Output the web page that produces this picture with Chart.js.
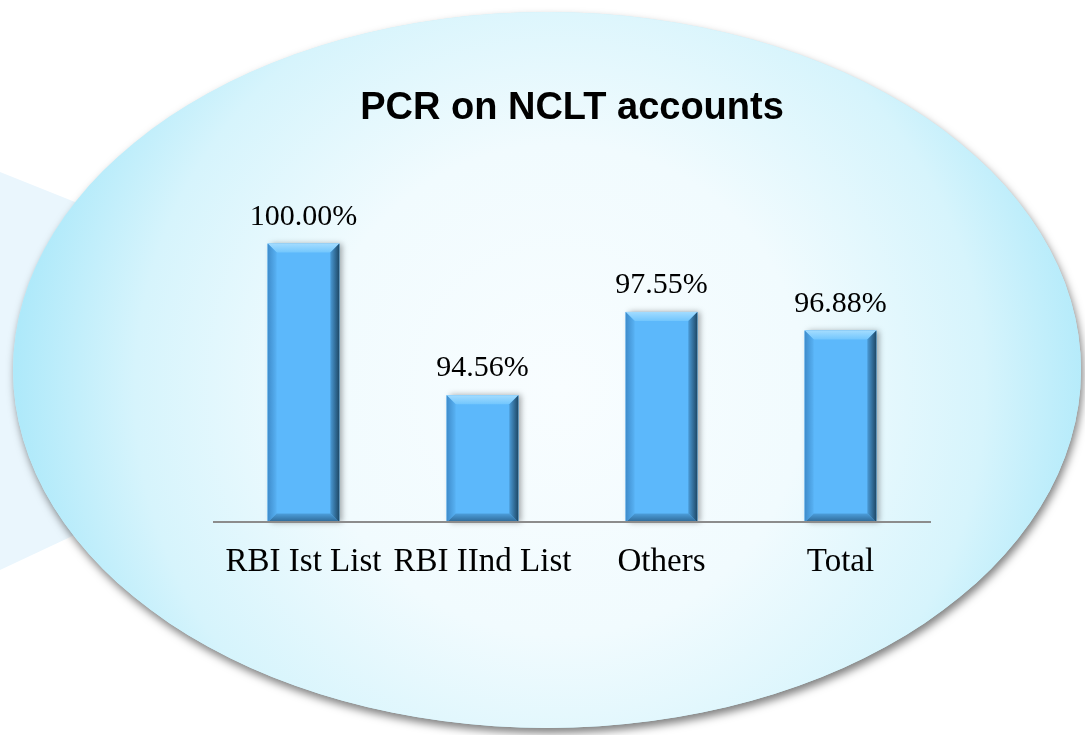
<!DOCTYPE html>
<html>
<head>
<meta charset="utf-8">
<script src="https://cdn.jsdelivr.net/npm/chart.js@4/dist/chart.umd.min.js"></script>
<style>
  html, body { margin: 0; padding: 0; background: #ffffff; }
  #wrap { width: 1085px; height: 735px; }
</style>
</head>
<body>
<div id="wrap"><canvas id="pcrChart" width="1085" height="735"></canvas></div>
<script>
let categories = ["RBI Ist List", "RBI IInd List", "Others", "Total"];
let pcrValues = [100.00, 94.56, 97.55, 96.88];

const barColor = "#5cb8fb";

// bubble background: tail on the left + shaded ellipse
const bubbleBackground = {
    id: "bubbleBackground",
    beforeDraw(chart) {
        const ctx = chart.ctx;
        ctx.save();
        ctx.fillStyle = "#ffffff";
        ctx.fillRect(0, 0, chart.width, chart.height);

        // speech tail
        ctx.fillStyle = "#eaf6fd";
        ctx.beginPath();
        ctx.moveTo(0, 172);
        ctx.lineTo(260, 276);
        ctx.lineTo(260, 448);
        ctx.lineTo(0, 570);
        ctx.closePath();
        ctx.fill();

        const cx = 547, cy = 370, rx = 534, ry = 358;

        // drop shadow
        ctx.save();
        ctx.shadowColor = "rgba(0,0,0,0.5)";
        ctx.shadowBlur = 9;
        ctx.shadowOffsetX = 2;
        ctx.shadowOffsetY = 5;
        ctx.fillStyle = "#c9f0fb";
        ctx.beginPath();
        ctx.ellipse(cx, cy, rx, ry, 0, 0, Math.PI * 2);
        ctx.fill();
        ctx.restore();

        const grad = ctx.createRadialGradient(560, 390, 0, 560, 390, 545);
        grad.addColorStop(0, "#f8fdff");
        grad.addColorStop(0.45, "#f1fbfe");
        grad.addColorStop(0.78, "#d6f4fc");
        grad.addColorStop(1, "#aee9fa");
        ctx.fillStyle = grad;
        ctx.beginPath();
        ctx.ellipse(cx, cy, rx, ry, 0, 0, Math.PI * 2);
        ctx.fill();
        ctx.restore();
    }
};

// bevel look and value labels on the bars
const bevelBars = {
    id: "bevelBars",
    beforeDatasetsDraw(chart) {
        const ctx = chart.ctx;
        ctx.save();
        ctx.shadowColor = "rgba(0,0,0,0.35)";
        ctx.shadowBlur = 6;
        ctx.shadowOffsetX = 3;
        ctx.shadowOffsetY = 0;
        ctx.fillStyle = barColor;
        chart.getDatasetMeta(0).data.forEach(bar => {
            const w = bar.width;
            ctx.fillRect(bar.x - w / 2, bar.y, w, bar.base - bar.y);
        });
        ctx.restore();
    },
    afterDatasetsDraw(chart) {
        const ctx = chart.ctx;
        const b = 9;
        ctx.save();
        chart.getDatasetMeta(0).data.forEach((bar, i) => {
            const x0 = bar.x - bar.width / 2;
            const x1 = bar.x + bar.width / 2;
            const top = bar.y;
            const bottom = bar.base;

            // top facet
            let g = ctx.createLinearGradient(0, top, 0, top + b);
            g.addColorStop(0, "#a3dcff");
            g.addColorStop(1, "#72c6fd");
            ctx.fillStyle = g;
            ctx.beginPath();
            ctx.moveTo(x0, top); ctx.lineTo(x1, top);
            ctx.lineTo(x1 - b, top + b); ctx.lineTo(x0 + b, top + b);
            ctx.closePath(); ctx.fill();

            // right facet
            g = ctx.createLinearGradient(x1 - b, 0, x1, 0);
            g.addColorStop(0, "#4a9ad6");
            g.addColorStop(1, "#1e4866");
            ctx.fillStyle = g;
            ctx.beginPath();
            ctx.moveTo(x1, top); ctx.lineTo(x1, bottom);
            ctx.lineTo(x1 - b, bottom - b); ctx.lineTo(x1 - b, top + b);
            ctx.closePath(); ctx.fill();

            // left facet
            g = ctx.createLinearGradient(x0, 0, x0 + b, 0);
            g.addColorStop(0, "#3f8ccb");
            g.addColorStop(1, "#58b2f4");
            ctx.fillStyle = g;
            ctx.beginPath();
            ctx.moveTo(x0, top); ctx.lineTo(x0 + b, top + b);
            ctx.lineTo(x0 + b, bottom - b); ctx.lineTo(x0, bottom);
            ctx.closePath(); ctx.fill();

            // bottom facet
            g = ctx.createLinearGradient(0, bottom - b, 0, bottom);
            g.addColorStop(0, "#4d9fdc");
            g.addColorStop(1, "#2c6592");
            ctx.fillStyle = g;
            ctx.beginPath();
            ctx.moveTo(x0, bottom); ctx.lineTo(x1, bottom);
            ctx.lineTo(x1 - b, bottom - b); ctx.lineTo(x0 + b, bottom - b);
            ctx.closePath(); ctx.fill();

            // value label
            ctx.fillStyle = "#000000";
            ctx.font = "30px 'Liberation Serif', 'Times New Roman', serif";
            ctx.textAlign = "center";
            ctx.textBaseline = "alphabetic";
            ctx.fillText(pcrValues[i].toFixed(2) + "%", bar.x, top - 19);
        });
        ctx.restore();
    }
};

const pcrChart = document.getElementById("pcrChart");

new Chart(pcrChart, {
    type: "bar",
    data: {
        labels: categories,
        datasets: [{
            data: pcrValues,
            base: 90,
            backgroundColor: barColor,
            borderWidth: 0,
            barPercentage: 0.4,
            categoryPercentage: 1.0
        }]
    },
    options: {
        responsive: false,
        animation: false,
        layout: {
            padding: { left: 214, right: 155, top: 63, bottom: 141 }
        },
        scales: {
            x: {
                grid: { display: false },
                border: { display: true, color: "#8c8c8c", width: 2, z: 1 },
                ticks: {
                    color: "#000000",
                    padding: 12,
                    autoSkip: false,
                    maxRotation: 0,
                    minRotation: 0,
                    font: { family: "'Liberation Serif', 'Times New Roman', serif", size: 33 }
                }
            },
            y: {
                display: false,
                min: 90,
                max: 100
            }
        },
        plugins: {
            legend: { display: false },
            tooltip: { enabled: false },
            title: {
                display: true,
                text: "PCR on NCLT accounts",
                color: "#000000",
                font: { family: "'Liberation Sans', Arial, sans-serif", size: 38, weight: "bold" },
                padding: { top: 23, bottom: 112 }
            }
        }
    },
    plugins: [bubbleBackground, bevelBars]
});
</script>
</body>
</html>
